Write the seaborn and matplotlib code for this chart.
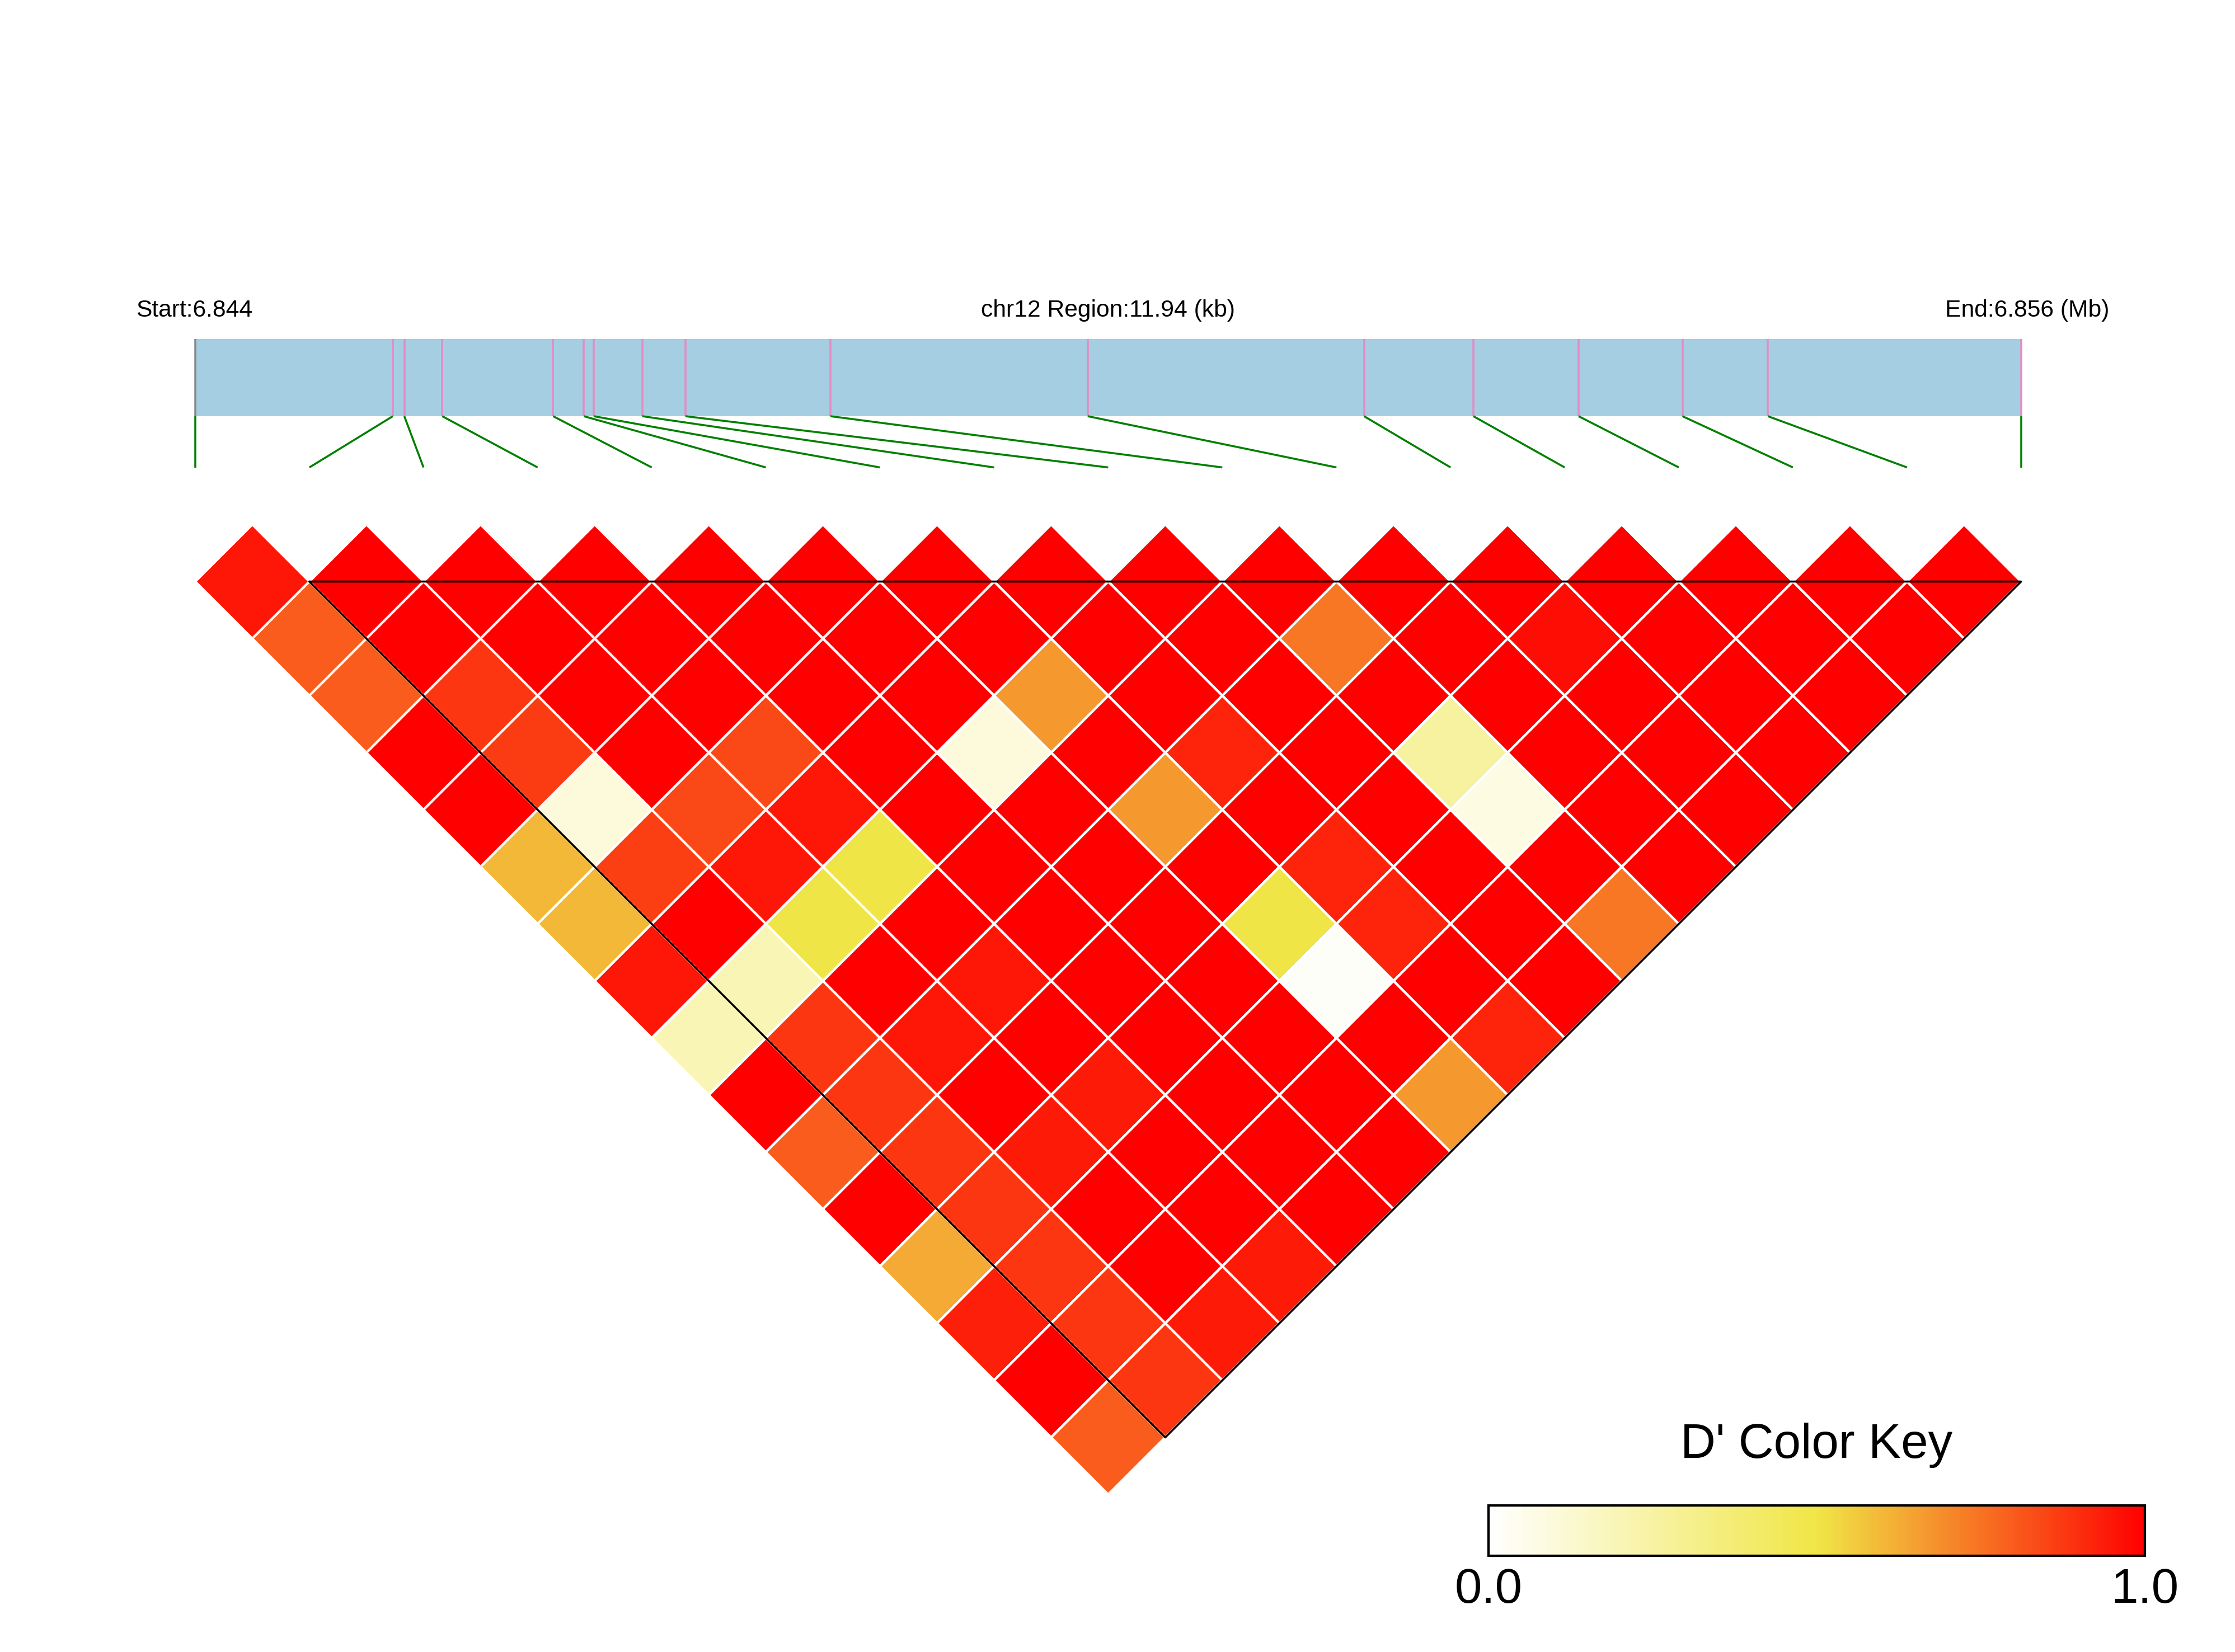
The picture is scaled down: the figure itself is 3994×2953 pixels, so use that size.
import numpy as np
import matplotlib
matplotlib.use("Agg")
import matplotlib.pyplot as plt
import seaborn as sns
from matplotlib.collections import PolyCollection, LineCollection
from matplotlib.patches import Rectangle
from matplotlib.colors import Normalize
from matplotlib.cm import ScalarMappable

chrom = "chr12"
region_start = 6844080
region_end = 6856020
snp_pos = [6844080, 6845372, 6845447, 6845695, 6846420, 6846621, 6846685,
           6847003, 6847285, 6848233, 6849916, 6851723, 6852438, 6853126,
           6853805, 6854364, 6856020]

# D' values, one list per SNP distance (row 1 = neighbouring SNPs)
dprime_rows = [
    [0.95, 1, 1, 1, 1, 1, 1, 1, 1, 1, 1, 1, 1, 1, 1, 1],
    [0.80, 1, 1, 1, 1, 1, 1, 1, 1, 0.74, 1, 0.97, 1, 1, 1],
    [0.80, 0.88, 1, 1, 1, 1, 0.67, 1, 1, 1, 1, 1, 1, 1],
    [1, 0.87, 1, 0.84, 1, 0.10, 1, 0.92, 1, 0.26, 1, 1, 1],
    [1, 0.10, 0.84, 0.95, 1, 1, 0.67, 1, 1, 0.08, 1, 1],
    [0.60, 0.86, 0.95, 0.50, 1, 1, 1, 0.92, 1, 1, 1],
    [0.60, 1, 0.50, 1, 1, 1, 0.50, 0.92, 1, 0.74],
    [0.95, 0.20, 1, 0.95, 1, 1, 0.02, 1, 1],
    [0.20, 0.88, 0.95, 1, 1, 1, 1, 0.92],
    [1, 0.88, 1, 0.94, 1, 1, 0.67],
    [0.80, 0.88, 0.94, 1, 1, 1],
    [1, 0.88, 1, 1, 1],
    [0.63, 0.88, 1, 0.94],
    [0.93, 0.88, 0.94],
    [1, 0.88],
    [0.80],
]
block = (1, 16)

sns.set_theme(style="white")
plt.rcParams["font.family"] = ["Liberation Sans", "DejaVu Sans"]
plt.rcParams["text.color"] = "black"
plt.rcParams["xtick.color"] = "black"

fig = plt.figure(figsize=(3994 / 256, 2953 / 256), dpi=256)
ax = fig.add_axes([0, 0, 1, 1])
u = 80.06  # preview pixels per SNP step
ax.set_xlim(-137 / u, (1568 - 137) / u)
ax.set_ylim((1159 - 408) / u, -408 / u)
ax.axis("off")

n = len(snp_pos)
cmap = sns.blend_palette(["#ffffff", "#f0e646", "#ff0000"], as_cmap=True)
norm = Normalize(0, 1)

# LD diamonds
polys, vals = [], []
for d, row in enumerate(dprime_rows, start=1):
    for i, v in enumerate(row):
        cx, cy = i + d / 2, (d - 1) / 2
        polys.append([(cx - 0.5, cy), (cx, cy - 0.5), (cx + 0.5, cy), (cx, cy + 0.5)])
        vals.append(v)
pc = PolyCollection(polys, array=np.array(vals), cmap=cmap, norm=norm,
                    edgecolors="white", linewidths=1.2)
ax.add_collection(pc)

# LD block outline
b0, b1 = block
ax.plot([b0, b1, (b0 + b1) / 2, b0], [0, 0, (b1 - b0) / 2, 0],
        color="black", lw=1.0, zorder=5)

# region bar with SNP ticks
bar_top, bar_bot, link_end = -2.123, -1.449, -1.0
frac = (np.array(snp_pos) - region_start) / (region_end - region_start)
bar_x = frac * (n - 1)
ax.add_patch(Rectangle((0, bar_top), n - 1, bar_bot - bar_top,
                       facecolor="#a6cee3", edgecolor="none"))
ax.vlines(bar_x[1:], bar_top, bar_bot, color="#e58bc4", lw=1.0)
ax.vlines(bar_x[0], bar_top, bar_bot, color="#888888", lw=1.0)
segs = [[(bx, bar_bot), (k, link_end)] for k, bx in enumerate(bar_x)]
ax.add_collection(LineCollection(segs, colors="#008000", linewidths=1.0))

ty = -2.323
ax.text(-0.517, ty, f"Start:{region_start / 1e6:.3f}", ha="left", va="baseline", fontsize=12)
ax.text((n - 1) / 2, ty, f"{chrom} Region:{(region_end - region_start) / 1000:.2f} (kb)",
        ha="center", va="baseline", fontsize=12)
ax.text(16.775, ty, f"End:{region_end / 1e6:.3f} (Mb)", ha="right", va="baseline", fontsize=12)

# colour key
cax = fig.add_axes([0.666, 0.0582, 0.2937, 0.0305])
cb = fig.colorbar(ScalarMappable(norm=norm, cmap=cmap), cax=cax,
                  orientation="horizontal", ticks=[0, 1])
cb.ax.set_xticklabels(["0.0", "1.0"], fontsize=24.5, color="black")
cb.ax.tick_params(length=0, pad=6)
cb.outline.set_linewidth(1.2)
cb.outline.set_edgecolor("black")
cax.set_title("D' Color Key", fontsize=24.5, pad=24, color="black")

fig.savefig("out.png", dpi=256)
